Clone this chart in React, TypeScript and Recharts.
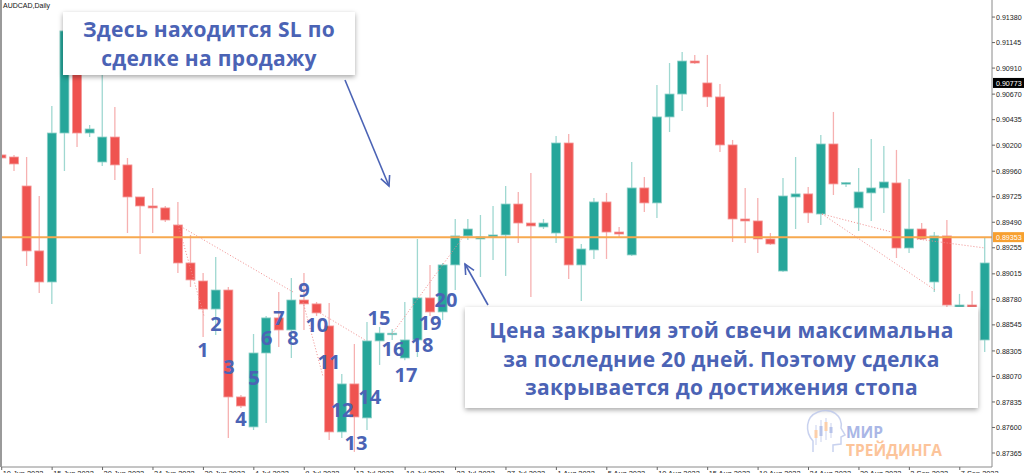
import React from "react";
import { ComposedChart, Bar, XAxis, YAxis, ReferenceLine, ReferenceDot } from "recharts";

// AUDCAD daily, 10 Jun 2022 .. 9 Sep 2022
const opens = [
  0.9011, 0.90091, 0.89824, 0.89226, 0.8894, 0.90312, 0.90966, 0.90312, 0.90045, 0.90275,
  0.90018, 0.89723, 0.8964, 0.89622, 0.89465, 0.89115, 0.88949, 0.88691, 0.88866, 0.87881,
  0.87605, 0.88286, 0.88609, 0.88498, 0.88774, 0.88738, 0.88535, 0.87559, 0.88001, 0.87688,
  0.88397, 0.88461, 0.8824, 0.88406, 0.88793, 0.88664, 0.89097, 0.89364, 0.89336, 0.89355,
  0.89373, 0.89658, 0.89483, 0.89447, 0.89391, 0.9022, 0.89097, 0.89235, 0.89677, 0.894,
  0.89189, 0.89806, 0.89668, 0.9046, 0.90671, 0.90975, 0.90773, 0.90644, 0.90202, 0.8952,
  0.89502, 0.89336, 0.89041, 0.89723, 0.89751, 0.89566, 0.90211, 0.89843, 0.89622, 0.8976,
  0.89806, 0.89852, 0.89253, 0.89428, 0.8894, 0.89364, 0.8871, 0.88728, 0.88406,
];
const highs = [
  0.90892, 0.9011, 0.90091, 0.89732, 0.90561, 0.91307, 0.91169, 0.90386, 0.90892, 0.90552,
  0.90082, 0.89723, 0.89806, 0.8964, 0.89677, 0.89373, 0.89023, 0.8917, 0.88894, 0.87899,
  0.88461, 0.88627, 0.88848, 0.88977, 0.89023, 0.88756, 0.88747, 0.88093, 0.88369, 0.88572,
  0.88526, 0.88507, 0.88756, 0.89336, 0.89097, 0.89115, 0.8952, 0.8952, 0.89557, 0.8964,
  0.89824, 0.89769, 0.89944, 0.8952, 0.90285, 0.90303, 0.8929, 0.89714, 0.8976, 0.89447,
  0.90045, 0.89907, 0.90754, 0.90957, 0.91058, 0.91031, 0.91031, 0.90763, 0.90248, 0.89806,
  0.89714, 0.89391, 0.89898, 0.90091, 0.89815, 0.90294, 0.90506, 0.89861, 0.8999, 0.90257,
  0.90193, 0.90156, 0.89889, 0.89483, 0.894, 0.89511, 0.8883, 0.88857, 0.89346,
];
const lows = [
  0.8999, 0.89962, 0.89087, 0.88839, 0.88738, 0.89962, 0.90183, 0.90275, 0.90008, 0.89879,
  0.89391, 0.89198, 0.89391, 0.89493, 0.89023, 0.88894, 0.88434, 0.88452, 0.87504, 0.8778,
  0.87577, 0.87642, 0.88342, 0.8824, 0.88498, 0.88627, 0.87485, 0.87504, 0.87375, 0.87577,
  0.88176, 0.88406, 0.8822, 0.88249, 0.88627, 0.8859, 0.88866, 0.89327, 0.88986, 0.89143,
  0.88995, 0.89299, 0.88802, 0.89428, 0.89299, 0.88968, 0.88765, 0.89152, 0.89152, 0.89355,
  0.8918, 0.89585, 0.89529, 0.90321, 0.90515, 0.90948, 0.90552, 0.90137, 0.89308, 0.89299,
  0.89207, 0.89281, 0.89032, 0.89428, 0.89483, 0.89465, 0.89741, 0.89815, 0.8941, 0.89502,
  0.89576, 0.89161, 0.89207, 0.89327, 0.88848, 0.8871, 0.88701, 0.88701, 0.88295,
];
const closes = [
  0.90082, 0.90027, 0.89226, 0.8894, 0.90312, 0.91252, 0.90312, 0.90349, 0.90275, 0.90018,
  0.89723, 0.8964, 0.89622, 0.89511, 0.89115, 0.88959, 0.88691, 0.88866, 0.87881, 0.87798,
  0.88286, 0.88609, 0.88498, 0.88774, 0.88738, 0.88655, 0.87559, 0.88001, 0.87697, 0.88397,
  0.8847, 0.88468, 0.88406, 0.88793, 0.88664, 0.89097, 0.89364, 0.89428, 0.89355, 0.89373,
  0.89658, 0.89483, 0.89456, 0.89483, 0.9022, 0.89097, 0.89244, 0.89677, 0.894, 0.89382,
  0.89806, 0.89668, 0.9046, 0.90671, 0.90975, 0.90957, 0.90644, 0.90202, 0.8952, 0.89502,
  0.89336, 0.8929, 0.89732, 0.89751, 0.89576, 0.90211, 0.89843, 0.89855, 0.89769, 0.89806,
  0.89861, 0.89253, 0.89428, 0.89336, 0.89364, 0.88728, 0.88728, 0.8871, 0.89115,
];

const dateLabels = [
  "10 Jun 2022", "15 Jun 2022", "20 Jun 2022", "24 Jun 2022", "30 Jun 2022",
  "4 Jul 2022", "8 Jul 2022", "13 Jul 2022", "18 Jul 2022", "22 Jul 2022",
  "27 Jul 2022", "1 Aug 2022", "5 Aug 2022", "10 Aug 2022", "15 Aug 2022",
  "19 Aug 2022", "24 Aug 2022", "30 Aug 2022", "2 Sep 2022", "7 Sep 2022",
];
const dateTickIdx = dateLabels.map((_, i) => i * 4);

const priceTicks = [
  0.9138, 0.91145, 0.9091, 0.9067, 0.90435, 0.902, 0.8996, 0.89725, 0.8949,
  0.89255, 0.89015, 0.8878, 0.88545, 0.88305, 0.8807, 0.87835, 0.876, 0.87365,
];

const closeLevel = 0.89353;
const bidLevel = 0.90773;

// numbered marks (bar position, price)
const markX = [15.97, 17, 18.03, 18.98, 20.01, 21.02, 22, 23.1, 23.98, 25, 25.96, 27, 28.1, 29.2, 29.93, 31.04, 32.07, 33.34, 33.98, 35.24];
const markY = [0.88314, 0.88553, 0.88157, 0.87678, 0.88056, 0.88424, 0.88609, 0.88424, 0.88866, 0.88544, 0.88203, 0.87761, 0.87457, 0.87881, 0.88609, 0.88323, 0.88084, 0.8836, 0.88563, 0.88774];

// trade history lines: [x1, y1, x2, y2]
const tradeLines = [
  [14, 0.89465, 23.11, 0.88848],
  [14, 0.89465, 16.05, 0.88627],
  [23.9, 0.88756, 25.5, 0.88065],
  [25.25, 0.88655, 28.82, 0.88406],
  [30.96, 0.88461, 36.6, 0.89355],
  [65.07, 0.89566, 74.04, 0.88866],
  [65.07, 0.89566, 70.6, 0.894],
  [72.6, 0.89336, 78, 0.89253],
];

const candles = opens.map((o, i) => ({
  i,
  open: o,
  high: highs[i],
  low: lows[i],
  close: closes[i],
  range: [lows[i], highs[i]],
}));

const BLUE = "#4b63b5";
const UP = "#26a69a";
const DOWN = "#ef5350";

const Candle = (props: any) => {
  const { x, y, width, height, payload } = props;
  if (!payload) return null;
  const { open, close, high, low } = payload;
  const cx = x + width / 2;
  const span = high - low || 1e-9;
  const py = (v: number) => y + ((high - v) / span) * height;
  const up = close >= open;
  const top = py(Math.max(open, close));
  const bot = py(Math.min(open, close));
  const h = Math.max(bot - top, 1.5);
  return (
    <g>
      <line x1={cx} x2={cx} y1={y} y2={y + height} stroke={up ? "#9fd8d1" : "#f6b1b1"} strokeWidth={1.3} />
      <rect
        x={cx - 4.5}
        y={top}
        width={9}
        height={h}
        fill={up ? UP : DOWN}
        stroke={up ? "#8ed0c8" : "#f49a9a"}
        strokeWidth={0.8}
      />
    </g>
  );
};

const XTick = (props: any) => {
  const { x, y, payload } = props;
  const label = dateLabels[dateTickIdx.indexOf(payload.value)] || "";
  return (
    <g>
      <line x1={x} x2={x} y1={y} y2={y + 3} stroke="#666" />
      <text x={x + 1} y={y + 8.5} fontSize={7.4} fontFamily="Liberation Sans, Arial" fill="#222" textAnchor="start">
        {label}
      </text>
    </g>
  );
};

const YTick = (props: any) => {
  const { x, y, payload } = props;
  return (
    <g>
      <line x1={x} x2={x + 3} y1={y} y2={y} stroke="#666" />
      <text x={x + 4} y={y + 2.6} fontSize={7.1} fontFamily="Liberation Sans, Arial" fill="#222" textAnchor="start">
        {Number(payload.value).toFixed(5)}
      </text>
    </g>
  );
};

const tagLabel = (bg: string, text: string) => (props: any) => {
  const vb = props.viewBox || {};
  const x0 = (vb.x || 0) + (vb.width || 0) + 1;
  const yy = vb.y || 0;
  return (
    <g>
      <rect x={x0} y={yy - 5} width={31} height={10} fill={bg} />
      <text x={x0 + 3} y={yy + 2.6} fontSize={7.1} fontFamily="Liberation Sans, Arial" fill="#fff">
        {text}
      </text>
    </g>
  );
};

function arrowHead(x1: number, y1: number, x2: number, y2: number, len = 11, ang = 0.45) {
  const a = Math.atan2(y2 - y1, x2 - x1);
  const p1 = [x2 - len * Math.cos(a - ang), y2 - len * Math.sin(a - ang)];
  const p2 = [x2 - len * Math.cos(a + ang), y2 - len * Math.sin(a + ang)];
  return `M${p1[0]},${p1[1]} L${x2},${y2} L${p2[0]},${p2[1]}`;
}

const boxText: React.CSSProperties = {
  position: "absolute",
  background: "#fff",
  boxShadow: "0 2px 5px rgba(0,0,0,0.35)",
  color: BLUE,
  fontFamily: "'Open Sans', 'Noto Sans', sans-serif",
  fontWeight: 700,
  fontSize: 21,
  letterSpacing: 0.3,
  lineHeight: "28.5px",
  textAlign: "center",
  whiteSpace: "nowrap",
};

export default function App() {
  return (
    <div style={{ position: "relative", width: 1024, height: 473, background: "#fff", overflow: "hidden" }}>
      <style>{"body{margin:0}"}</style>
      <ComposedChart width={1024} height={473} data={candles} margin={{ top: 0, right: 0, bottom: 0, left: 1 }}>
        <XAxis
          type="number"
          dataKey="i"
          domain={[-0.056, 78.555]}
          allowDataOverflow
          ticks={dateTickIdx}
          interval={0}
          height={6}
          tickLine={false}
          tickSize={0}
          tickMargin={0}
          tick={<XTick />}
          axisLine={{ stroke: "#8a8a8a" }}
        />
        <YAxis
          orientation="right"
          type="number"
          domain={[0.87236, 0.91537]}
          allowDataOverflow
          ticks={priceTicks}
          interval={0}
          width={32}
          tickLine={false}
          tickSize={0}
          tickMargin={0}
          tick={<YTick />}
          axisLine={{ stroke: "#8a8a8a" }}
        />
        <ReferenceLine y={closeLevel} stroke="#f7a94f" strokeWidth={2} label={tagLabel("#f7a030", "0.89353")} />
        <ReferenceLine y={bidLevel} stroke="#000" strokeOpacity={0} label={tagLabel("#000", "0.90773")} />
        {tradeLines.map((l, idx) => (
          <ReferenceLine
            key={idx}
            segment={[
              { x: l[0], y: l[1] },
              { x: l[2], y: l[3] },
            ]}
            stroke="#f08c8c"
            strokeDasharray="1 2"
            strokeWidth={1}
            ifOverflow="visible"
          />
        ))}
        <Bar dataKey="range" shape={<Candle />} barSize={10} isAnimationActive={false} />
        {markX.map((mx, idx) => (
          <ReferenceDot
            key={"m" + idx}
            x={mx}
            y={markY[idx]}
            r={0}
            fill="none"
            stroke="none"
            ifOverflow="visible"
            label={{
              value: String(idx + 1),
              position: "center",
              fill: BLUE,
              fontSize: 20,
              fontWeight: 700,
              fontFamily: "'Open Sans', sans-serif",
            }}
          />
        ))}
      </ComposedChart>

      {/* frame left edge + symbol caption */}
      <div style={{ position: "absolute", left: 0, top: 0, width: 2, height: 467, background: "#9a9a9a" }} />
      <div
        style={{
          position: "absolute",
          left: 3,
          top: 2,
          fontSize: 7,
          fontFamily: "Liberation Sans, Arial",
          color: "#111",
        }}
      >
        AUDCAD,Daily
      </div>

      <div style={{ ...boxText, left: 63, top: 12, width: 292, height: 63, paddingTop: 3, boxSizing: "border-box" }}>
        Здесь находится SL по
        <br />
        сделке на продажу
      </div>
      <div style={{ ...boxText, left: 465, top: 307, width: 513, height: 101, paddingTop: 9, boxSizing: "border-box" }}>
        Цена закрытия этой свечи максимальна
        <br />
        за последние 20 дней. Поэтому сделка
        <br />
        закрывается до достижения стопа
      </div>

      <svg width={1024} height={473} style={{ position: "absolute", left: 0, top: 0, pointerEvents: "none" }}>
        <line x1={345} y1={80} x2={389} y2={186} stroke={BLUE} strokeWidth={1.6} />
        <path d={arrowHead(345, 80, 389, 186)} fill="none" stroke={BLUE} strokeWidth={1.6} />
        <line x1={488} y1={305} x2={465} y2={264} stroke={BLUE} strokeWidth={1.6} />
        <path d={arrowHead(488, 305, 465, 264)} fill="none" stroke={BLUE} strokeWidth={1.6} />

        {/* logo */}
        <g opacity={0.75}>
          <path
            d="M813 452 L813 441 C805 432 805 417 818 412 C832 407 843 416 841 428 L845 435 L841 437 L841 444 L833 445 L833 452"
            fill="none"
            stroke="#b7c3ea"
            strokeWidth={1.5}
          />
          <line x1={816} y1={425} x2={816} y2={445} stroke="#b7c3ea" strokeWidth={1} />
          <rect x={814.5} y={430} width={3} height={8} fill="#fbbf8e" />
          <line x1={821} y1={420} x2={821} y2={442} stroke="#b7c3ea" strokeWidth={1} />
          <rect x={819.5} y={426} width={3} height={10} fill="#9fb0e4" />
          <line x1={826} y1={418} x2={826} y2={440} stroke="#b7c3ea" strokeWidth={1} />
          <rect x={824.5} y={422} width={3} height={9} fill="#fbbf8e" />
          <line x1={831} y1={423} x2={831} y2={438} stroke="#b7c3ea" strokeWidth={1} />
          <rect x={829.5} y={427} width={3} height={6} fill="#9fb0e4" />
        </g>
        <text x={846} y={438} fontSize={15.5} fontWeight={700} fontFamily="'Open Sans', sans-serif" fill="#aab7e6">
          МИР
        </text>
        <text x={846} y={456} fontSize={15.5} fontWeight={700} fontFamily="'Open Sans', sans-serif" fill="#fcc49a">
          ТРЕЙДИНГА
        </text>
      </svg>
    </div>
  );
}
